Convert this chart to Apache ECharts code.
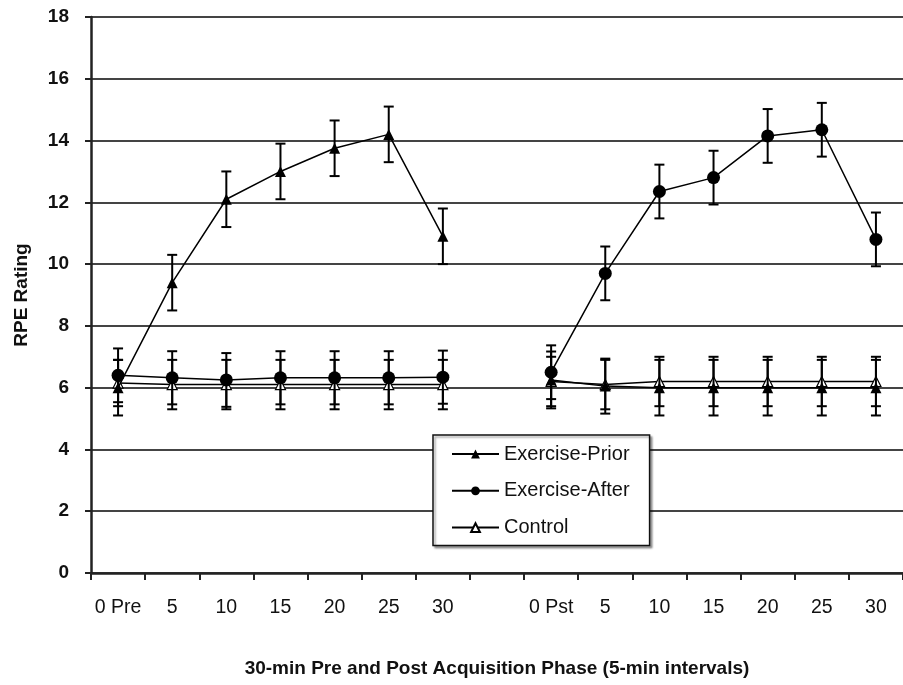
<!DOCTYPE html>
<html><head><meta charset="utf-8">
<script src="https://cdn.jsdelivr.net/npm/echarts@6/dist/echarts.min.js"></script>
<style>html,body{margin:0;padding:0;background:#fff}#c{width:903px;height:685px}</style>
</head><body><div id="c"></div>
<script>
// ---- data ----
const categories = ['0 Pre','5','10','15','20','25','30','','0 Pst','5','10','15','20','25','30'];
const yMin = 0, yMax = 18, yInterval = 2;
const seriesNames = ['Exercise-Prior','Exercise-After','Control'];
const exercisePrior    = [6.0, 9.4, 12.1, 13.0, 13.75, 14.2, 10.9, null, 6.25, 6.05, 6.0, 6.0, 6.0, 6.0, 6.0];
const exercisePriorErr = [0.9, 0.9, 0.9, 0.9, 0.9, 0.9, 0.9, null, 0.92, 0.89, 0.9, 0.9, 0.9, 0.9, 0.9];
const exerciseAfter    = [6.4, 6.32, 6.25, 6.32, 6.32, 6.32, 6.34, null, 6.5, 9.7, 12.35, 12.8, 14.15, 14.35, 10.8];
const exerciseAfterErr = [0.87, 0.86, 0.87, 0.86, 0.86, 0.86, 0.86, null, 0.87, 0.87, 0.87, 0.87, 0.87, 0.87, 0.87];
const control          = [6.15, 6.1, 6.1, 6.1, 6.1, 6.1, 6.1, null, 6.2, 6.1, 6.2, 6.2, 6.2, 6.2, 6.2];
const controlErr       = [0.75, 0.8, 0.8, 0.8, 0.8, 0.8, 0.8, null, 0.8, 0.8, 0.8, 0.8, 0.8, 0.8, 0.8];

// ---- chart ----
const FONT = '"Liberation Sans", Arial, sans-serif';
function errData(vals, errs) {
  return vals.map((v, i) => v == null ? null : [i, v - errs[i], v + errs[i]]).filter(Boolean);
}
function errRender(params, api) {
  const x = api.value(0);
  const lo = api.coord([x, api.value(1)]);
  const hi = api.coord([x, api.value(2)]);
  const w = 5;
  const style = { stroke: '#000', lineWidth: 2 };
  return { type: 'group', children: [
    { type: 'line', shape: { x1: lo[0], y1: lo[1], x2: hi[0], y2: hi[1] }, style },
    { type: 'line', shape: { x1: lo[0] - w, y1: lo[1], x2: lo[0] + w, y2: lo[1] }, style },
    { type: 'line', shape: { x1: hi[0] - w, y1: hi[1], x2: hi[0] + w, y2: hi[1] }, style }
  ]};
}
function errSeries(vals, errs, z) {
  return { type: 'custom', renderItem: errRender, data: errData(vals, errs),
    encode: { x: 0, y: [1, 2] }, z: z, silent: true };
}
const chart = echarts.init(document.getElementById('c'), null, { renderer: 'canvas' });
chart.setOption({
  animation: false,
  backgroundColor: '#fff',
  textStyle: { fontFamily: FONT },
  grid: { left: 91, top: 17, width: 823, height: 556, containLabel: false },
  legend: {
    data: seriesNames,
    orient: 'vertical', left: 433, top: 435,
    padding: [9, 20, 8, 18],
    itemWidth: 47, itemHeight: 11, itemGap: 16.8,
    backgroundColor: '#fff', borderColor: '#111', borderWidth: 1.5,
    shadowColor: 'rgba(0,0,0,0.35)', shadowOffsetX: 2, shadowOffsetY: 2, shadowBlur: 2,
    textStyle: { fontSize: 20, lineHeight: 20, fontFamily: FONT, color: '#111' },
    z: 20
  },
  xAxis: {
    type: 'category', data: categories, boundaryGap: true,
    name: '30-min Pre and Post Acquisition Phase (5-min intervals)',
    nameLocation: 'middle', nameGap: 86,
    nameTextStyle: { fontSize: 19, fontWeight: 'bold', color: '#111', fontFamily: FONT },
    axisLine: { show: true, lineStyle: { color: '#222', width: 2.5 } },
    axisTick: { show: true, interval: 0, length: 7, lineStyle: { color: '#222', width: 2 } },
    axisLabel: { interval: 0, fontSize: 19.5, color: '#111', margin: 25, fontFamily: FONT },
    splitLine: { show: false }
  },
  yAxis: {
    type: 'value', min: yMin, max: yMax, interval: yInterval,
    name: 'RPE Rating', nameLocation: 'middle', nameGap: 60,
    nameTextStyle: { fontSize: 19, fontWeight: 'bold', color: '#111', fontFamily: FONT },
    axisLine: { show: true, lineStyle: { color: '#222', width: 2.5 } },
    axisTick: { show: true, length: 6, lineStyle: { color: '#222', width: 2 } },
    axisLabel: { fontSize: 19, fontWeight: 'bold', color: '#111', margin: 22, fontFamily: FONT },
    splitLine: { show: true, lineStyle: { color: '#444', width: 2 } }
  },
  series: [
    errSeries(control, controlErr, 2),
    { name: 'Control', type: 'line', data: control, z: 3,
      symbol: 'triangle', symbolSize: 10, showSymbol: true,
      lineStyle: { color: '#000', width: 1.5 },
      itemStyle: { color: '#fff', borderColor: '#000', borderWidth: 1.2 } },
    errSeries(exerciseAfter, exerciseAfterErr, 4),
    { name: 'Exercise-After', type: 'line', data: exerciseAfter, z: 5,
      symbol: 'circle', symbolSize: 13,
      lineStyle: { color: '#000', width: 1.5 },
      itemStyle: { color: '#000' } },
    errSeries(exercisePrior, exercisePriorErr, 4),
    { name: 'Exercise-Prior', type: 'line', data: exercisePrior, z: 5,
      symbol: 'triangle', symbolSize: 11,
      lineStyle: { color: '#000', width: 1.5 },
      itemStyle: { color: '#000' } }
  ]
});
</script>
</body></html>
